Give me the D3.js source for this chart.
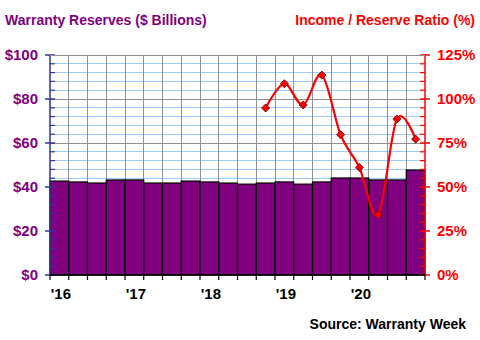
<!DOCTYPE html>
<html>
<head>
<meta charset="utf-8">
<script src="https://cdn.jsdelivr.net/npm/d3@7"></script>
<style>
  html, body { margin: 0; padding: 0; background: #fff; }
  svg { display: block; font-family: Arial, "Liberation Sans", sans-serif; }
</style>
</head>
<body>
<svg id="chart" width="480" height="340"></svg>
<script>
// ---- data ----
const quarters = ["2016Q1","2016Q2","2016Q3","2016Q4","2017Q1","2017Q2","2017Q3","2017Q4",
  "2018Q1","2018Q2","2018Q3","2018Q4","2019Q1","2019Q2","2019Q3","2019Q4",
  "2020Q1","2020Q2","2020Q3","2020Q4"];
const reserves = [42.7, 42.3, 41.8, 43.2, 43.2, 41.8, 41.8, 42.7, 42.3, 41.8,
  41.3, 41.8, 42.3, 41.3, 42.3, 44.1, 44.1, 43.2, 43.2, 47.7];
const ratio = [null, null, null, null, null, null, null, null, null, null,
  null, 94.9, 108.7, 96.6, 113.6, 79.7, 61.1, 34.3, 88.6, 77.2];
const yearLabels = ["'16", "'17", "'18", "'19", "'20"];
const yearQuarters = ["2016Q1", "2017Q1", "2018Q1", "2019Q1", "2020Q1"];
const leftTicks = [0, 20, 40, 60, 80, 100];
const rightTicks = [0, 25, 50, 75, 100, 125];

// ---- layout ----
const L = 50, R = 425, T = 55, B = 275;
const svg = d3.select("#chart");
const x = d3.scaleBand().domain(quarters).range([L, R]).padding(0);
const yL = d3.scaleLinear().domain([0, 100]).range([B, T]);
const yR = d3.scaleLinear().domain([0, 125]).range([B, T]);

const purple = "#800080", red = "#FF0000", navy = "#333399";

// minor light-blue gridlines
const minor = d3.range(0, 101, 4).filter(v => v % 20 !== 0);
svg.append("g").selectAll("line").data(minor).join("line")
  .attr("x1", L).attr("x2", R)
  .attr("y1", d => yL(d)).attr("y2", d => yL(d))
  .attr("stroke", "#99CCFF").attr("stroke-width", 1).attr("shape-rendering", "crispEdges");
// major gray gridlines
svg.append("g").selectAll("line").data(leftTicks.filter(v => v > 0)).join("line")
  .attr("x1", L).attr("x2", R)
  .attr("y1", d => yL(d)).attr("y2", d => yL(d))
  .attr("stroke", "#909090").attr("stroke-width", 1).attr("shape-rendering", "crispEdges");
// vertical gray gridlines at quarter boundaries
const bounds = quarters.map(q => x(q)).slice(1);
svg.append("g").selectAll("line").data(bounds).join("line")
  .attr("x1", d => d).attr("x2", d => d)
  .attr("y1", T).attr("y2", B)
  .attr("stroke", "#909090").attr("stroke-width", 1).attr("shape-rendering", "crispEdges");

// bars
svg.append("g").selectAll("rect").data(quarters).join("rect")
  .attr("x", q => x(q))
  .attr("width", x.bandwidth())
  .attr("y", (q, i) => yL(reserves[i]))
  .attr("height", (q, i) => B - yL(reserves[i]))
  .attr("fill", purple).attr("stroke", "#000").attr("stroke-width", 1.2);

// line
const pts = quarters.map((q, i) => ({ q, v: ratio[i] })).filter(d => d.v != null);
const line = d3.line()
  .x(d => x(d.q) + x.bandwidth() / 2)
  .y(d => yR(d.v))
  .curve(d3.curveCardinal.tension(0));
svg.append("path").datum(pts)
  .attr("d", line).attr("fill", "none").attr("stroke", red).attr("stroke-width", 2.2);
svg.append("g").selectAll("path").data(pts).join("path")
  .attr("transform", d => `translate(${x(d.q) + x.bandwidth() / 2},${yR(d.v)})`)
  .attr("d", d3.symbol(d3.symbolDiamond2, 42)())
  .attr("fill", red).attr("stroke", "#600000").attr("stroke-width", 0.8);

// left axis
const gL = svg.append("g").attr("transform", `translate(${L},0)`);
gL.append("line").attr("x1", 0).attr("x2", 0).attr("y1", T).attr("y2", B)
  .attr("stroke", navy).attr("stroke-width", 1.5);
gL.selectAll(".mn").data(minor).join("line").attr("class", "mn")
  .attr("x1", 0).attr("x2", 5).attr("y1", d => yL(d)).attr("y2", d => yL(d))
  .attr("stroke", navy).attr("stroke-width", 1.2);
gL.selectAll(".mj").data(leftTicks).join("line").attr("class", "mj")
  .attr("x1", -5).attr("x2", 5).attr("y1", d => yL(d)).attr("y2", d => yL(d))
  .attr("stroke", navy).attr("stroke-width", 1.5);
gL.selectAll("text").data(leftTicks).join("text")
  .attr("x", -12).attr("y", d => yL(d)).attr("dy", "0.36em")
  .attr("text-anchor", "end").attr("fill", purple)
  .attr("font-size", 15).attr("font-weight", "bold")
  .text(d => "$" + d);

// right axis
const gR = svg.append("g").attr("transform", `translate(${R},0)`);
gR.append("line").attr("x1", 0).attr("x2", 0).attr("y1", T).attr("y2", B)
  .attr("stroke", red).attr("stroke-width", 1.5);
const minorR = d3.range(0, 126, 5).filter(v => v % 25 !== 0);
gR.selectAll(".mn").data(minorR).join("line").attr("class", "mn")
  .attr("x1", -5).attr("x2", 0).attr("y1", d => yR(d)).attr("y2", d => yR(d))
  .attr("stroke", red).attr("stroke-width", 1.2);
gR.selectAll(".mj").data(rightTicks).join("line").attr("class", "mj")
  .attr("x1", -5).attr("x2", 5).attr("y1", d => yR(d)).attr("y2", d => yR(d))
  .attr("stroke", red).attr("stroke-width", 1.5);
gR.selectAll("text").data(rightTicks).join("text")
  .attr("x", 12).attr("y", d => yR(d)).attr("dy", "0.36em")
  .attr("text-anchor", "start").attr("fill", red)
  .attr("font-size", 15).attr("font-weight", "bold")
  .text(d => d + "%");

// bottom axis
const gB = svg.append("g");
gB.append("line").attr("x1", L).attr("x2", R).attr("y1", B).attr("y2", B)
  .attr("stroke", "#000").attr("stroke-width", 1.5);
gB.selectAll(".tk").data(quarters.map(q => x(q)).concat([R])).join("line").attr("class", "tk")
  .attr("x1", d => d).attr("x2", d => d).attr("y1", B).attr("y2", B + 5)
  .attr("stroke", "#000").attr("stroke-width", 1.2);
gB.selectAll("text").data(yearQuarters).join("text")
  .attr("x", q => x(q) + x.bandwidth() / 2 + 1.5).attr("y", 299)
  .attr("text-anchor", "middle").attr("fill", "#000")
  .attr("font-size", 15).attr("font-weight", "bold")
  .text((q, i) => yearLabels[i]);

// top border
svg.append("line").attr("x1", L).attr("x2", R).attr("y1", T).attr("y2", T)
  .attr("stroke", "#909090").attr("stroke-width", 1).attr("shape-rendering", "crispEdges");

// titles
svg.append("text").attr("x", 5).attr("y", 25).attr("fill", purple)
  .attr("font-size", 14).attr("font-weight", "bold").text("Warranty Reserves ($ Billions)");
svg.append("text").attr("x", 475).attr("y", 25).attr("text-anchor", "end").attr("fill", red)
  .attr("font-size", 14).attr("font-weight", "bold").text("Income / Reserve Ratio (%)");
svg.append("text").attr("x", 466).attr("y", 329).attr("text-anchor", "end").attr("fill", "#000")
  .attr("font-size", 14).attr("font-weight", "bold").text("Source: Warranty Week");
</script>
</body>
</html>
